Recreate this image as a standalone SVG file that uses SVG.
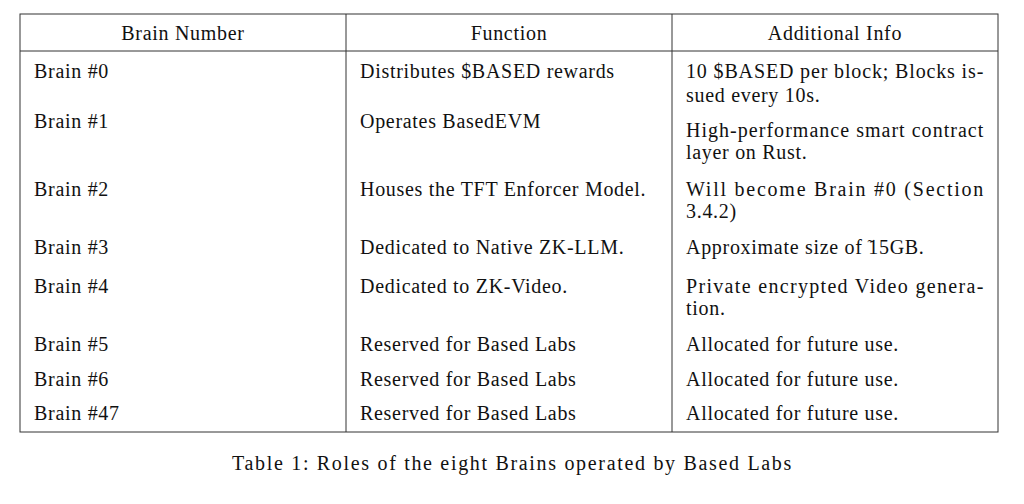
<svg xmlns="http://www.w3.org/2000/svg" width="1024" height="504" viewBox="0 0 1024 504">
<style>
text{font-family:"Liberation Serif","DejaVu Serif",serif;font-size:20px;letter-spacing:0.7px;fill:#111}
.c{text-anchor:middle}
.g line,.g rect{stroke:#333;stroke-width:1;fill:none}
</style>
<rect width="1024" height="504" fill="#fff"/>
<g id="table" class="g">
<rect x="20" y="14" width="978" height="418"/>
<line x1="20" y1="51" x2="998" y2="51"/>
<line x1="346" y1="14" x2="346" y2="432"/>
<line x1="672" y1="14" x2="672" y2="432"/>
</g>
<g id="header">
<text class="c" x="183" y="40">Brain Number</text>
<text class="c" x="509" y="40">Function</text>
<text class="c" x="835" y="40">Additional Info</text>
</g>
<g id="col1">
<text x="34" y="78">Brain #0</text>
<text x="34" y="128">Brain #1</text>
<text x="34" y="196">Brain #2</text>
<text x="34" y="254">Brain #3</text>
<text x="34" y="293">Brain #4</text>
<text x="34" y="351">Brain #5</text>
<text x="34" y="386">Brain #6</text>
<text x="34" y="420">Brain #47</text>
</g>
<g id="col2">
<text x="360" y="78">Distributes $BASED rewards</text>
<text x="360" y="128">Operates BasedEVM</text>
<text x="360" y="196">Houses the TFT Enforcer Model.</text>
<text x="360" y="254">Dedicated to Native ZK-LLM.</text>
<text x="360" y="293">Dedicated to ZK-Video.</text>
<text x="360" y="351">Reserved for Based Labs</text>
<text x="360" y="386">Reserved for Based Labs</text>
<text x="360" y="420">Reserved for Based Labs</text>
</g>
<g id="col3">
<text x="686" y="78" textLength="298" lengthAdjust="spacing">10 $BASED per block; Blocks is-</text>
<text x="686" y="102">sued every 10s.</text>
<text x="686" y="137" textLength="298" lengthAdjust="spacing">High-performance smart contract</text>
<text x="686" y="159">layer on Rust.</text>
<text x="686" y="196" textLength="298" lengthAdjust="spacing">Will become Brain #0 (Section</text>
<text x="686" y="218">3.4.2)</text>
<text x="686" y="254">Approximate size of ̃15GB.</text>
<text x="686" y="293" textLength="298" lengthAdjust="spacing">Private encrypted Video genera-</text>
<text x="686" y="315">tion.</text>
<text x="686" y="351">Allocated for future use.</text>
<text x="686" y="386">Allocated for future use.</text>
<text x="686" y="420">Allocated for future use.</text>
</g>
<text id="caption" x="232" y="470" textLength="560" lengthAdjust="spacing">Table 1: Roles of the eight Brains operated by Based Labs</text>
</svg>
